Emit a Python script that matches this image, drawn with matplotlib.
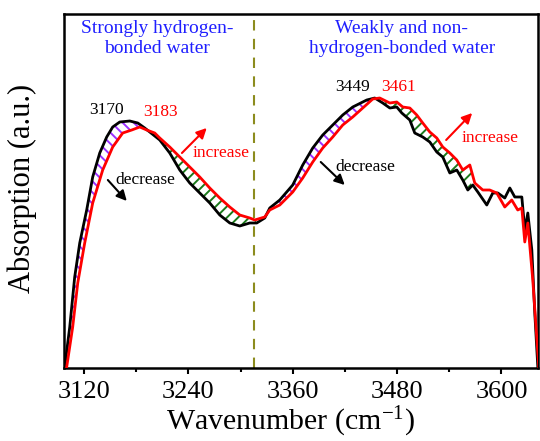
import matplotlib
matplotlib.use("Agg")
import matplotlib.pyplot as plt
import numpy as np

plt.rcParams['font.family'] = ['Liberation Serif', 'DejaVu Serif']
plt.rcParams['mathtext.fontset'] = 'custom'
plt.rcParams['mathtext.rm'] = 'Liberation Serif'
plt.rcParams['mathtext.default'] = 'regular'
plt.rcParams['hatch.linewidth'] = 1.4

# ---- data (wavenumber in cm^-1, absorption in arbitrary units) ----
black_x = [3097.8, 3103.6, 3109.3, 3115.1, 3123.1, 3130.0, 3138.1, 3146.1, 3153.0, 3161.1,
           3172.6, 3181.8, 3189.8, 3195.6, 3207.1, 3218.6, 3230.1, 3241.6, 3253.1, 3264.6,
           3276.1, 3287.6, 3299.1, 3310.6, 3318.6, 3327.8, 3333.6, 3345.1, 3360.0, 3371.5,
           3383.0, 3394.5, 3406.0, 3417.5, 3429.0, 3445.1, 3454.3, 3463.5, 3471.6, 3479.6,
           3485.4, 3494.6, 3500.3, 3509.5, 3517.6, 3525.6, 3532.5, 3540.6, 3548.6, 3555.5,
           3561.3, 3567.0, 3572.8, 3583.1, 3590.0, 3595.8, 3603.8, 3609.6, 3615.3, 3623.4,
           3626.8, 3630.3, 3634.9, 3638.3, 3641.8]
black_y = [1, 41, 91, 125, 158, 191, 215, 231, 241, 246,
           247, 245, 240, 236, 228, 215, 198, 185, 175, 165,
           153, 145, 142, 145, 145, 150, 160, 168, 183, 203,
           220, 233, 243, 253, 261, 268, 270, 265, 260, 261,
           255, 248, 235, 231, 226, 216, 211, 195, 198, 188,
           178, 183, 176, 163, 175, 175, 170, 180, 171, 171,
           138, 155, 118, 55, 1]

red_x = [3100.1, 3107.0, 3112.8, 3120.8, 3130.0, 3141.5, 3153.0, 3164.5, 3174.9, 3184.1,
         3192.1, 3201.3, 3207.1, 3218.6, 3230.1, 3241.6, 3253.1, 3264.6, 3276.1, 3287.6,
         3299.1, 3310.6, 3316.3, 3327.8, 3333.6, 3345.1, 3360.0, 3371.5, 3383.0, 3394.5,
         3406.0, 3417.5, 3429.0, 3440.5, 3452.0, 3460.0, 3471.6, 3479.6, 3486.5, 3494.6,
         3502.6, 3509.5, 3517.6, 3525.6, 3532.5, 3540.6, 3548.6, 3555.5, 3563.6, 3569.3,
         3578.5, 3586.5, 3594.6, 3603.8, 3611.8, 3618.7, 3623.4, 3626.8, 3630.3, 3636.0,
         3642.9]
red_y = [1, 41, 85, 125, 165, 198, 221, 235, 238, 241,
         238, 235, 230, 221, 211, 201, 191, 180, 170, 161,
         153, 150, 148, 151, 158, 163, 176, 190, 206, 220,
         231, 243, 251, 260, 269, 270, 265, 266, 261, 260,
         253, 245, 236, 230, 221, 215, 208, 198, 203, 185,
         178, 178, 175, 161, 168, 158, 160, 126, 145, 88,
         1]

x_ticks = [3120, 3240, 3360, 3480, 3600]
minor_ticks = [3180, 3300, 3420, 3540]
boundary = 3315

fig = plt.figure(figsize=(5.4, 4.41), dpi=100)
ax = fig.add_axes([64/540, 1-368/441, 474/540, 354/441])

ax.plot(black_x, black_y, color='black', lw=2.0, zorder=4)
ax.plot(red_x, red_y, color='red', lw=2.0, zorder=5)

# hatched difference regions
grid = np.linspace(3098, 3640, 2000)
bk = np.interp(grid, black_x, black_y)
rd = np.interp(grid, red_x, red_y)
purple = '#9b30ff'
green = '#1b7a1b'
for lo, hi in [(3100, 3192), (3318, 3455)]:
    m = (grid >= lo) & (grid <= hi) & (bk > rd)
    ax.fill_between(grid, rd, bk, where=m, interpolate=True, facecolor='none',
                    edgecolor=purple, hatch='\\\\\\', linewidth=0, zorder=3)
for lo, hi in [(3190, 3318), (3452, 3565)]:
    m = (grid >= lo) & (grid <= hi) & (rd > bk)
    ax.fill_between(grid, bk, rd, where=m, interpolate=True, facecolor='none',
                    edgecolor=green, hatch='///', linewidth=0, zorder=3)

ax.axvline(boundary, color='#8c8c1e', lw=1.5, ls=(0, (5, 4)), zorder=2)

ax.set_xlim(3097, 3642)
ax.set_ylim(0, 354)
ax.set_xticks(x_ticks)
ax.set_xticks(minor_ticks, minor=True)
ax.set_yticks([])
ax.tick_params(axis='x', which='major', direction='out', length=4, width=1.5,
               labelsize=19, pad=5)
ax.tick_params(axis='x', which='minor', direction='out', length=3, width=1.5)
for s in ax.spines.values():
    s.set_linewidth(1.8)

ax.set_xlabel(r'Wavenumber (cm$^{-1}$)', fontsize=21.5, va='center')
ax.xaxis.set_label_coords(0.477, -0.152)
ax.set_ylabel('Absorption (a.u.)', fontsize=22, va='center')
ax.yaxis.set_label_coords(-0.088, 0.508)

blue = '#1f1fff'
ax.text(3203.8, 329.5, 'Strongly hydrogen-\nbonded water', color=blue, fontsize=14,
        ha='center', va='center', linespacing=1.2)
ax.text(3485.6, 329.5, 'Weakly and non-\nhydrogen-bonded water', color=blue, fontsize=14,
        ha='center', va='center', linespacing=1.2)

ax.text(3146, 258, '3170', color='black', fontsize=12.5, ha='center', va='center')
ax.text(3207.6, 256, '3183', color='red', fontsize=12.5, ha='center', va='center')
ax.text(3428.4, 281, '3449', color='black', fontsize=12.5, ha='center', va='center')
ax.text(3481.3, 281, '3461', color='red', fontsize=12.5, ha='center', va='center')

ax.text(3191, 188, 'decrease', color='black', fontsize=12.5, ha='center', va='center')
ax.text(3277.2, 215, 'increase', color='red', fontsize=12.5, ha='center', va='center')
ax.text(3444, 201, 'decrease', color='black', fontsize=12.5, ha='center', va='center')
ax.text(3586.6, 230, 'increase', color='red', fontsize=12.5, ha='center', va='center')

arrows = [((3147.4, 188), (3169.2, 167), 'black'),
          ((3232.6, 215), (3261.1, 240), 'red'),
          ((3392.2, 206), (3419.8, 183), 'black'),
          ((3536.4, 228), (3566.3, 255), 'red')]
for (x0, y0), (x1, y1), c in arrows:
    ax.annotate('', xy=(x1, y1), xytext=(x0, y0),
                arrowprops=dict(arrowstyle='-|>', color=c, lw=1.5, mutation_scale=15,
                                shrinkA=0, shrinkB=0), zorder=6)

fig.savefig('out.png', dpi=100)
